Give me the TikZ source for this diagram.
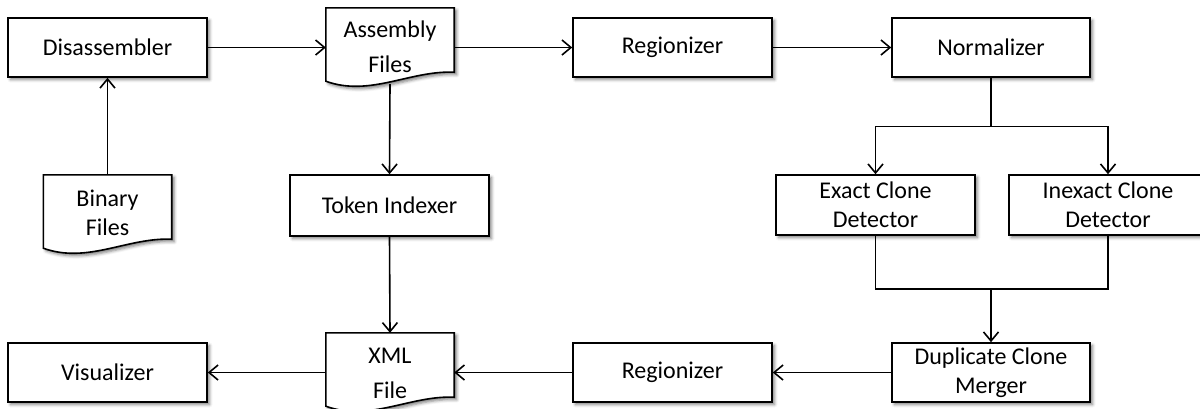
\documentclass[tikz,border=0pt]{standalone}
\usepackage{fontspec}
\setmainfont{Carlito}
\usetikzlibrary{arrows.meta,shadows.blur,calc}
\newcommand\drawdoc[1]{%
  \path[draw, fill=white, line width=1.6pt, line join=miter, sh]
    (#1.north west) -- (#1.north east) -- (#1.south east)
    .. controls ($(#1.south east)+(-44,-2)$) and ($(#1.south west)+(44,25)$) ..
    ($(#1.south west)+(0,9)$) -- cycle;}
\begin{document}
\begin{tikzpicture}[x=1pt,y=-1pt,
  sh/.style={blur shadow={shadow xshift=2.5pt,shadow yshift=-2.5pt,shadow blur radius=3pt,shadow opacity=50}},
  txt/.style={align=center, font=\fontsize{24}{29}\selectfont},
  box/.style={txt, draw, line width=1.6pt, fill=white, minimum width=199pt, minimum height=59pt, inner sep=0pt, sh},
  docframe/.style={inner sep=0pt, minimum width=128pt, minimum height=64pt},
  conn/.style={line width=1.6pt},
  arr/.style={line width=1.6pt, -{Straight Barb[length=9pt,width=15pt,line width=1.6pt]}}
]
\useasboundingbox (0,0) rectangle (1200,408);

% boxes
\node[box] (dis) at (107.5,47.5) {Disassembler};
\node[box] (reg1) at (672.5,47.5) {Regionizer};
\node[box, minimum width=198pt] (norm) at (991,47.5) {Normalizer};
\node[box, minimum height=61pt] (tok) at (389.5,205.5) {Token Indexer};
\node[box, minimum height=60pt] (exact) at (875.5,205) {Exact Clone\\Detector};
\node[box, minimum width=198pt, minimum height=60pt] (inex) at (1108,205) {Inexact Clone\\Detector};
\node[box, minimum width=198pt] (merge) at (991,372.5) {Duplicate Clone\\Merger};
\node[box] (reg2) at (672.5,372.5) {Regionizer};
\node[box] (vis) at (107.5,372.5) {Visualizer};

% documents
\node[docframe] (asm) at (390,40) {};
\drawdoc{asm}
\node[txt] (asmT) at (390,47) {Assembly\\[6pt]Files};
\node[docframe] (bin) at (107.5,207) {};
\drawdoc{bin}
\node[txt] (binT) at (107.5,213) {Binary\\Files};
\node[docframe] (xml) at (390,365) {};
\drawdoc{xml}
\node[txt] (xmlT) at (390,373) {XML\\[6pt]File};

% helper coordinates
\coordinate (asmB) at ($(asm.south)+(0,12)$);
\coordinate (split) at (991,126.5);
\coordinate (join) at (991,289);

% connectors
\draw[arr] (bin.north) -- (dis.south);
\draw[arr] (dis.east) -- (dis.east -| asm.west);
\draw[arr] (reg1.west -| asm.east) -- (reg1.west);
\draw[arr] (reg1.east) -- (norm.west);
\draw[conn] (norm.south) -- (split);
\draw[arr] (split) -| (exact.north);
\draw[arr] (split) -| (inex.north);
\draw[conn] (exact.south) |- (join);
\draw[conn] (inex.south) |- (join);
\draw[arr] (join) -- (merge.north);
\draw[arr] (merge.west) -- (reg2.east);
\draw[arr] (reg2.west) -- (reg2.west -| xml.east);
\draw[arr] (vis.east -| xml.west) -- (vis.east);
\draw[arr] (asmB) -- (tok.north);
\draw[arr] (tok.south) -- (xml.north);
\end{tikzpicture}
\end{document}
